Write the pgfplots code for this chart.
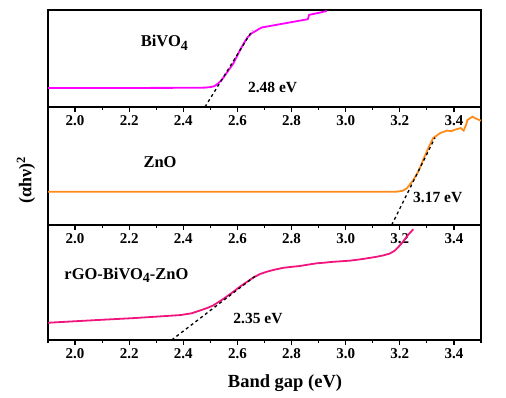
\documentclass[border=0pt]{standalone}
\usepackage{pgfplots}
\pgfplotsset{compat=1.18}
\usepackage{fontspec}
\setmainfont{Liberation Serif}
\definecolor{cmag}{RGB}{255,0,255}
\definecolor{corg}{RGB}{255,140,26}
\definecolor{cpink}{RGB}{240,20,125}
\newcommand{\subfour}{\raisebox{-0.45ex}{\fontsize{14}{15}\selectfont 4}}
\pgfplotsset{
  panel/.style={
    scale only axis, width=433pt,
    xmin=1.9, xmax=3.5, ymin=0, ymax=1,
    ytick=\empty,
    xtick={2.0,2.2,...,3.4},
    minor xtick={1.9,2.0,...,3.5},
    xtick pos=bottom, tick align=outside,
    major tick length=5pt, minor tick length=3pt,
    every tick/.style={black, line width=1.2pt},
    axis line style={line width=1.5pt},
    x tick label style={font=\fontsize{15}{17}\selectfont\bfseries, /pgf/number format/fixed, /pgf/number format/fixed zerofill, /pgf/number format/precision=1},
    /pgf/number format/assume math mode=true,
    clip=false,
  }
}
\begin{document}
\begin{tikzpicture}[x=1pt,y=1pt]
\path (0,0) rectangle (506,-398);
% top panel BiVO4
\begin{axis}[panel, height=97pt, at={(48pt,-107pt)}, anchor=south west]
\addplot[cmag, line width=1.8pt] coordinates {
(1.9,0.196) (2.1,0.196) (2.3,0.197) (2.45,0.198) (2.48,0.20) (2.50,0.205) (2.515,0.215) (2.53,0.245) (2.545,0.29) (2.56,0.35) (2.585,0.45) (2.61,0.59) (2.635,0.71) (2.65,0.755) (2.665,0.78) (2.68,0.805) (2.69,0.82) (2.72,0.835) (2.75,0.85) (2.80,0.875) (2.86,0.905) (2.865,0.95) (2.90,0.97) (2.93,0.99)};
\addplot[black, dashed, line width=1.3pt] coordinates {(2.48,0) (2.655,0.79)};
\node[font=\fontsize{16.5}{18}\selectfont\bfseries] at (axis cs:2.33,0.66) {BiVO\subfour};
\node[font=\fontsize{15.5}{17}\selectfont\bfseries] at (axis cs:2.73,0.2) {2.48 eV};
\end{axis}
% middle panel ZnO
\begin{axis}[panel, height=118pt, at={(48pt,-225pt)}, anchor=south west]
\addplot[corg, line width=1.8pt] coordinates {
(1.9,0.282) (2.3,0.282) (2.7,0.282) (3.0,0.281) (3.15,0.281) (3.19,0.283) (3.21,0.29) (3.226,0.311) (3.25,0.381) (3.27,0.46) (3.286,0.551) (3.305,0.65) (3.323,0.737) (3.35,0.78) (3.375,0.80) (3.39,0.795) (3.40,0.805) (3.425,0.822) (3.436,0.80) (3.445,0.85) (3.45,0.89) (3.468,0.918) (3.485,0.898) (3.5,0.884)};
\addplot[black, dashed, line width=1.3pt] coordinates {(3.17,0) (3.33,0.74)};
\node[font=\fontsize{16.5}{18}\selectfont\bfseries] at (axis cs:2.314,0.53) {ZnO};
\node[font=\fontsize{15.5}{17}\selectfont\bfseries] at (axis cs:3.34,0.23) {3.17 eV};
\end{axis}
% bottom panel rGO-BiVO4-ZnO
\begin{axis}[panel, height=115pt, at={(48pt,-340pt)}, anchor=south west]
\addplot[cpink, line width=1.8pt] coordinates {
(1.9,0.15) (2.0,0.163) (2.1,0.176) (2.214,0.19) (2.3,0.203) (2.39,0.217) (2.43,0.232) (2.46,0.255) (2.49,0.28) (2.51,0.30) (2.55,0.36) (2.585,0.42) (2.61,0.465) (2.635,0.505) (2.66,0.545) (2.685,0.575) (2.71,0.595) (2.74,0.613) (2.77,0.628) (2.80,0.636) (2.83,0.643) (2.86,0.655) (2.893,0.667) (2.92,0.672) (2.953,0.68) (2.98,0.684) (3.016,0.69) (3.05,0.70) (3.078,0.71) (3.11,0.722) (3.138,0.735) (3.163,0.752) (3.18,0.775) (3.195,0.81) (3.212,0.855) (3.23,0.913) (3.25,0.963)};
\addplot[black, dashed, line width=1.3pt] coordinates {(2.357,0) (2.671,0.565)};
\node[font=\fontsize{16.5}{18}\selectfont\bfseries] at (axis cs:2.19,0.565) {rGO-BiVO\subfour-ZnO};
\node[font=\fontsize{15.5}{17}\selectfont\bfseries] at (axis cs:2.676,0.19) {2.35 eV};
\end{axis}
\node[rotate=90, font=\fontsize{18}{20}\selectfont\bfseries] at (26,-180) {(αhν)\textsuperscript{2}};
\node[font=\fontsize{18.5}{20}\selectfont\bfseries] at (285,-383) {Band gap (eV)};
\end{tikzpicture}
\end{document}
